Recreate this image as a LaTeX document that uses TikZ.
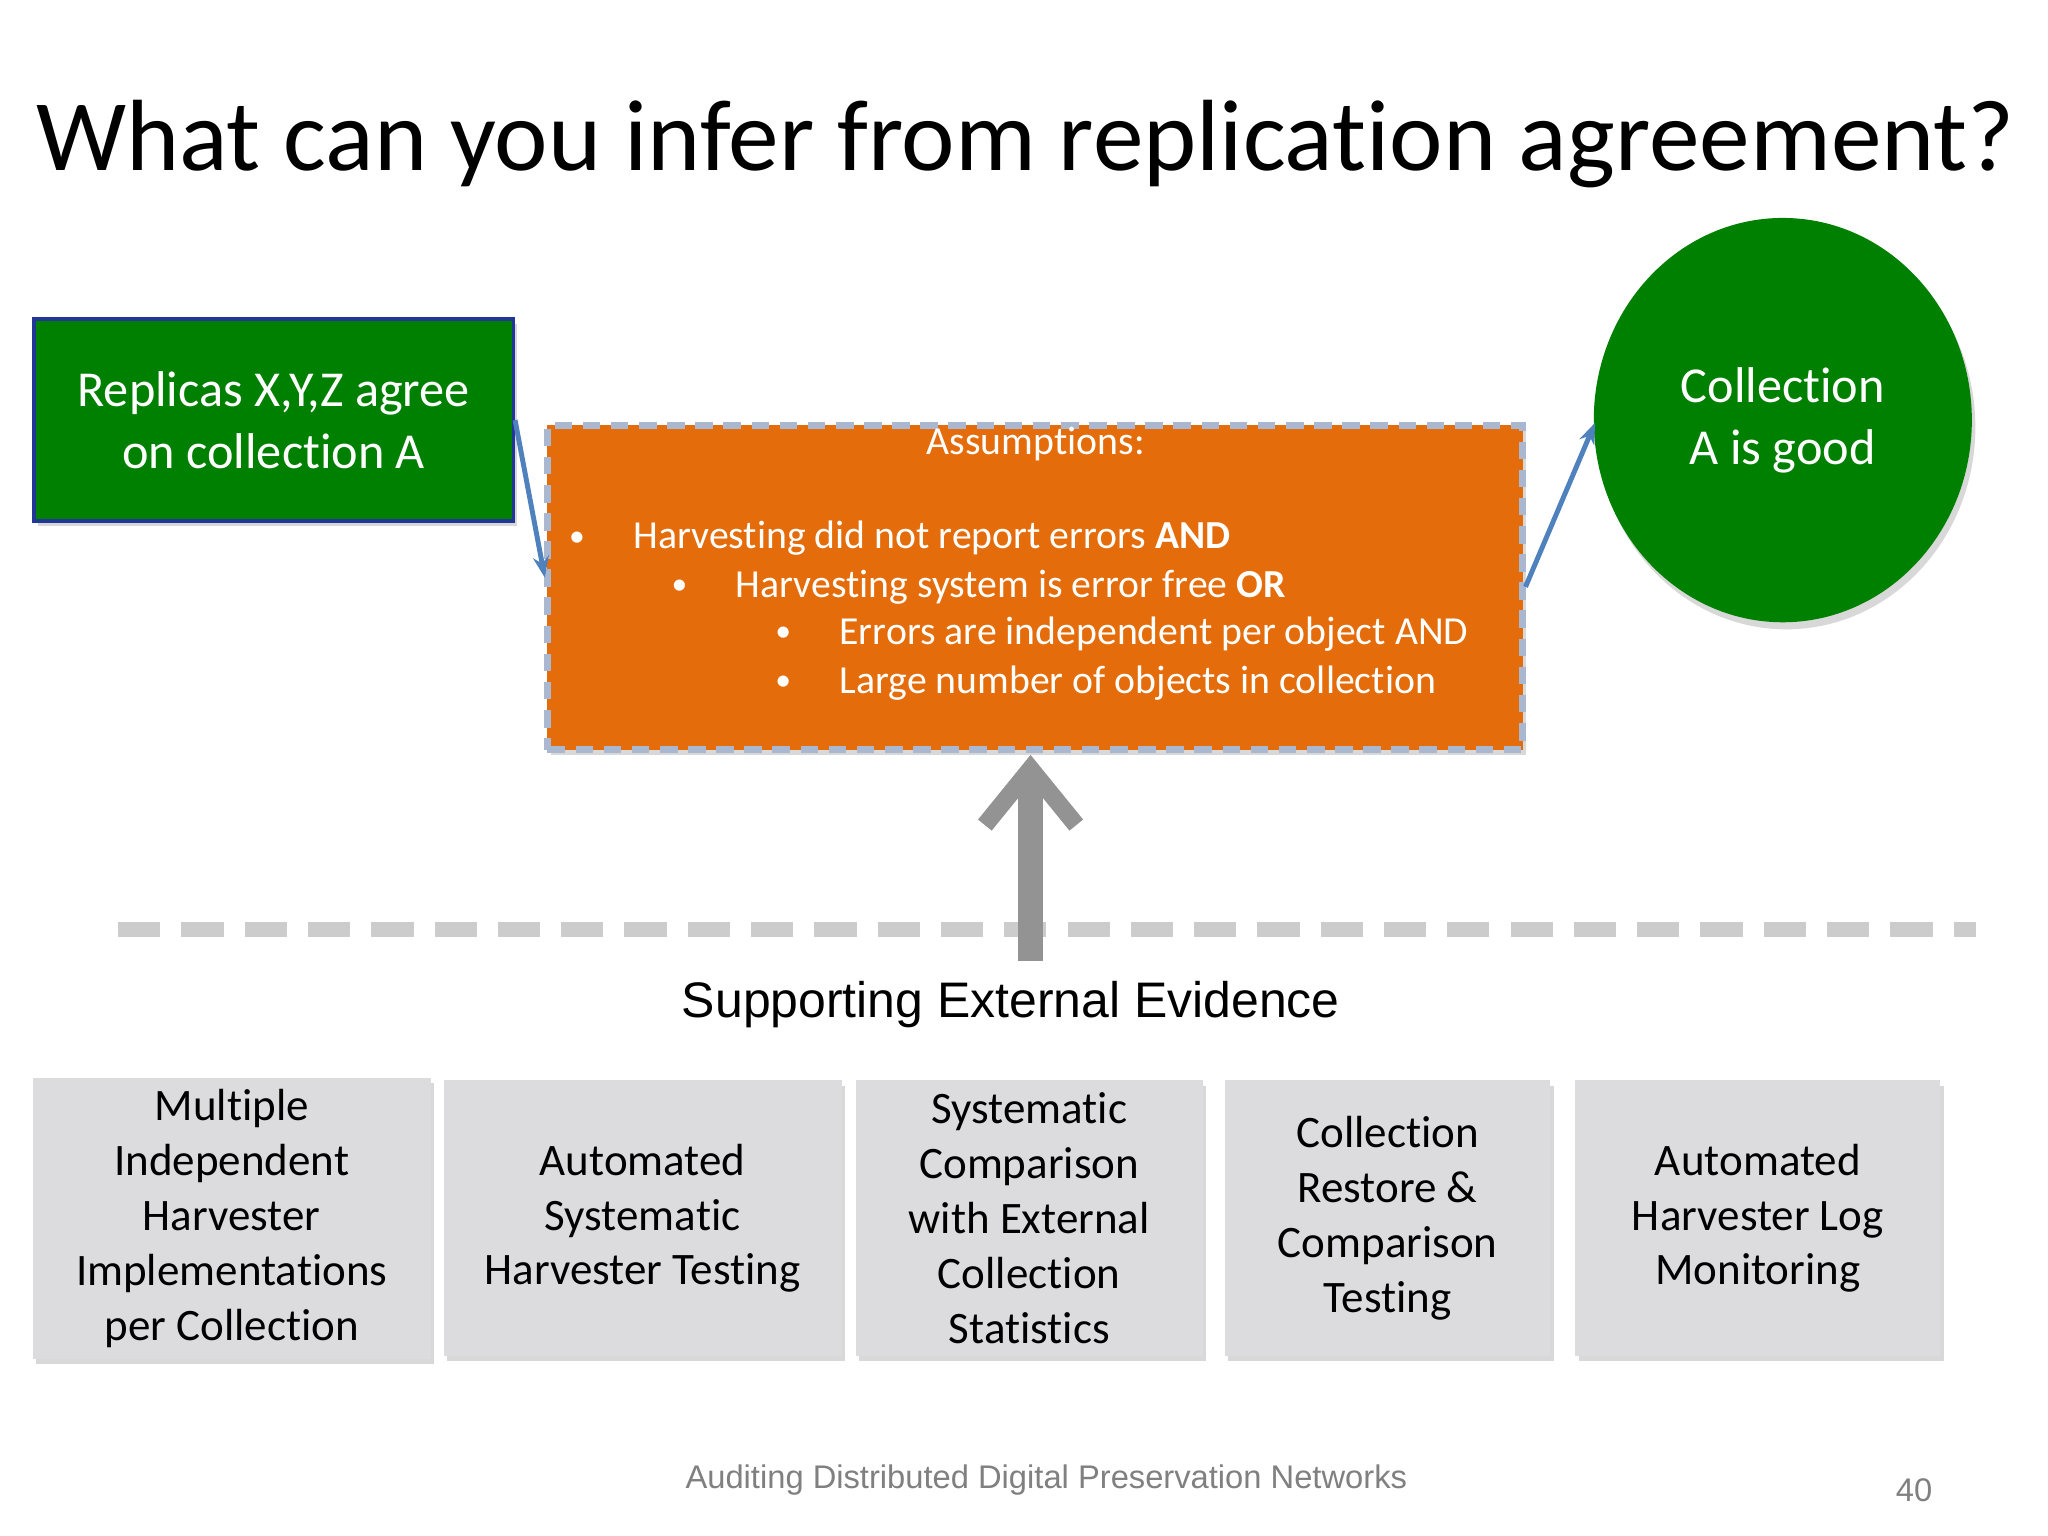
\documentclass[tikz,border=0pt]{standalone}
\usepackage{fontspec}
\setmainfont{Carlito}[Ligatures={NoCommon,NoRequired,NoContextual}]
\newfontfamily\arialf{Liberation Sans}
\usetikzlibrary{arrows.meta,shadows,shapes.geometric}
\definecolor{dgreen}{HTML}{008000}
\definecolor{orng}{HTML}{E46C0A}
\definecolor{boxg}{HTML}{DCDBDD}
\definecolor{lineb}{HTML}{4F81BD}
\definecolor{dashb}{HTML}{A9B8D0}
\begin{document}
\begin{tikzpicture}[x=0.01313cm,y=-0.01313cm,
  shd/.style={drop shadow={shadow xshift=1pt,shadow yshift=-1.5pt,opacity=0.3}},
  ev/.style={draw=none,fill=boxg,align=center,font=\fontsize{12.8}{15.6}\selectfont,minimum height=210*0.01313cm,shd},
  bl/.style={anchor=base west,text=white,inner sep=0,font=\fontsize{11.3}{13.6}\selectfont},
  conn/.style={draw=lineb,line width=1.4pt,-{Stealth[length=6pt]}}]
\useasboundingbox (0,0) rectangle (1560,1170);
\fill[white] (0,0) rectangle (1560,1170);
\node[anchor=base,inner sep=0,font=\fontsize{28.8}{34}\selectfont] (title) at (781,130) {What can you infer from replication agreement?};
\node[draw=lineb!60!blue!70!black,line width=1pt,fill=dgreen,minimum width=365*0.01313cm,minimum height=154*0.01313cm,text=white,align=center,font=\fontsize{14.3}{17.5}\selectfont,shd] (rep) at (208.5,320) {Replicas X,Y,Z agree\\on collection A};
\node[fill=orng,draw=dashb,line width=2pt,dash pattern=on 5pt off 3pt,minimum width=743*0.01313cm,minimum height=247*0.01313cm,shd] (orange) at (788.5,447.5) {};
\coordinate (oin) at (415,440);
\coordinate (oout) at (1162,447);
\coordinate (obot) at (785,575);
\node[anchor=base,text=white,inner sep=0,font=\fontsize{11.3}{13.6}\selectfont] (ass) at (789,346) {Assumptions:};
\node[bl] (b1) at (433,416) {\small•};
\node[bl] (t1) at (482,418) {Harvesting did not report errors \textbf{AND}};
\node[bl] (b2) at (511,453) {\small•};
\node[bl] (t2) at (560,455) {Harvesting system is error free \textbf{OR}};
\node[bl] (b3) at (590,489) {\small•};
\node[bl] (t3) at (639,491) {Errors are independent per object AND};
\node[bl] (b4) at (590,526) {\small•};
\node[bl] (t4) at (639,528) {Large number of objects in collection};
\node[ellipse,fill=dgreen,minimum width=288*0.01313cm,minimum height=308*0.01313cm,inner sep=0,text=white,align=center,font=\fontsize{14.3}{17.5}\selectfont,drop shadow={shadow xshift=1pt,shadow yshift=-2pt,opacity=0.3}] (circ) at (1358,320) {Collection\\A is good};
\coordinate (cin) at (1215,322);
\draw[conn] (rep.east) -- (oin);
\draw[conn] (oout) -- (cin);
\draw[gray!40,line width=4pt,dash pattern=on 12pt off 6pt] (90,708) -- (1505,708);
\coordinate (abot) at (785,732);
\draw[gray!85,line width=7pt,-{Straight Barb[length=16pt,width=26pt,line width=5pt]}] (abot) -- (obot);
\node[font=\arialf\fontsize{14.2}{17}\selectfont] (sup) at (770,765) {Supporting External Evidence};
\node[ev,minimum width=303*0.01313cm] (e1) at (176.5,928) {Multiple\\Independent\\Harvester\\Implementations\\per Collection};
\node[ev,minimum width=303*0.01313cm] (e2) at (489.5,928) {Automated\\Systematic\\Harvester Testing};
\node[ev,minimum width=264*0.01313cm] (e3) at (784,928) {Systematic\\Comparison\\with External\\Collection\\Statistics};
\node[ev,minimum width=248*0.01313cm] (e4) at (1057,928) {Collection\\Restore \&\\Comparison\\Testing};
\node[ev,minimum width=278*0.01313cm] (e5) at (1339,928) {Automated\\Harvester Log\\Monitoring};
\node[text=gray,font=\arialf\fontsize{9.3}{11}\selectfont] (foot) at (797,1127) {Auditing Distributed Digital Preservation Networks};
\node[text=gray,font=\arialf\fontsize{9.3}{11}\selectfont] (pg) at (1458,1135) {40};
\end{tikzpicture}
\end{document}
